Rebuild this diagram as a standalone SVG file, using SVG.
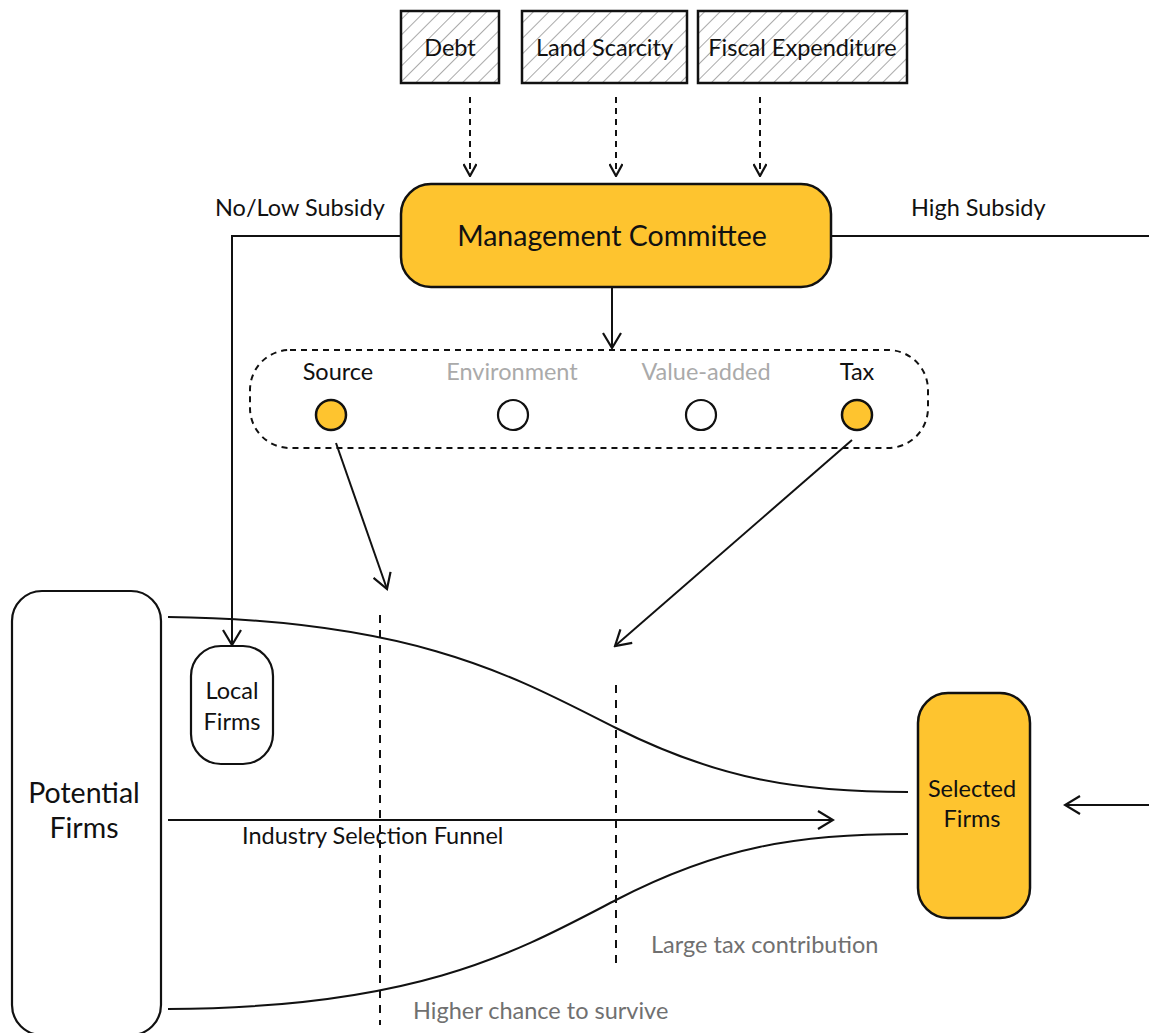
<svg xmlns="http://www.w3.org/2000/svg" width="1149" height="1033" viewBox="0 0 1149 1033">
  <style>
    text { font-family: Lato, "Open Sans", "Liberation Sans", sans-serif; fill: #111; }
    .hatchbox { fill: url(#hatch); stroke: #111; stroke-width: 2.5; }
    .yellow { fill: #FEC42F; stroke: #111; stroke-width: 2.5; }
    .plain { fill: #fff; stroke: #111; stroke-width: 2.2; }
    .line { fill: none; stroke: #111; stroke-width: 2; }
    .dash { fill: none; stroke: #111; stroke-width: 2; stroke-dasharray: 6 5; }
    .vdash { fill: none; stroke: #111; stroke-width: 2; stroke-dasharray: 8 7; }
    .lbl { font-size: 23.5px; }
    .big { font-size: 28.5px; }
    .faint { fill: #aaa; }
    .grey { fill: #707070; }
  </style>
  <defs>
    <pattern id="hatch" patternUnits="userSpaceOnUse" width="11" height="11" patternTransform="rotate(45)">
      <rect width="11" height="11" fill="#fff"/>
      <line x1="0" y1="0" x2="0" y2="11" stroke="#555" stroke-width="1"/>
    </pattern>
    <marker id="chev" viewBox="0 0 14 14" refX="13" refY="7" markerWidth="14" markerHeight="14" markerUnits="userSpaceOnUse" orient="auto">
      <path d="M1 0.5 L13 7 L1 13.5" fill="none" stroke="#111" stroke-width="2.2"/>
    </marker>
    <marker id="chevL" viewBox="0 0 20 20" refX="18" refY="10" markerWidth="20" markerHeight="20" markerUnits="userSpaceOnUse" orient="auto">
      <path d="M3 1 L18 10 L3 19" fill="none" stroke="#111" stroke-width="2.2"/>
    </marker>
  </defs>

  <!-- pressure factors -->
  <g id="debt">
    <rect class="hatchbox" x="401" y="11" width="98" height="72"/>
    <text class="lbl" x="450" y="56" text-anchor="middle">Debt</text>
  </g>
  <g id="land-scarcity">
    <rect class="hatchbox" x="522" y="11" width="165" height="72"/>
    <text class="lbl" x="604.5" y="56" text-anchor="middle">Land Scarcity</text>
  </g>
  <g id="fiscal-expenditure">
    <rect class="hatchbox" x="698" y="11" width="209" height="72"/>
    <text class="lbl" x="802.5" y="56" text-anchor="middle">Fiscal Expenditure</text>
  </g>

  <!-- committee -->
  <g id="management-committee">
    <rect class="yellow" x="401" y="184" width="430" height="103" rx="30"/>
    <text class="big" x="612" y="246" text-anchor="middle">Management Committee</text>
  </g>

  <!-- criteria -->
  <g id="criteria">
    <rect class="dash" x="250" y="350" width="678" height="98" rx="40"/>
    <text class="lbl" x="338" y="380" text-anchor="middle">Source</text>
    <text class="lbl faint" x="512" y="380" text-anchor="middle">Environment</text>
    <text class="lbl faint" x="706" y="380" text-anchor="middle">Value-added</text>
    <text class="lbl" x="857" y="380" text-anchor="middle">Tax</text>
    <circle cx="331" cy="415" r="15" class="yellow" stroke-width="2.2"/>
    <circle cx="513" cy="415" r="15" class="plain"/>
    <circle cx="701" cy="415" r="15" class="plain"/>
    <circle cx="857" cy="415" r="15" class="yellow" stroke-width="2.2"/>
  </g>

  <!-- firms -->
  <g id="potential-firms">
    <rect class="plain" x="12" y="591" width="149" height="444" rx="30"/>
    <text class="big" x="84" y="803" text-anchor="middle">Potential</text>
    <text class="big" x="84" y="838" text-anchor="middle">Firms</text>
  </g>
  <g id="local-firms">
    <rect class="plain" x="191" y="646" width="82" height="118" rx="30"/>
    <text class="lbl" x="232" y="699" text-anchor="middle">Local</text>
    <text class="lbl" x="232" y="730" text-anchor="middle">Firms</text>
  </g>
  <g id="selected-firms">
    <rect class="yellow" x="918" y="693" width="112" height="225" rx="30"/>
    <text class="lbl" x="972" y="797" text-anchor="middle">Selected</text>
    <text class="lbl" x="972" y="827" text-anchor="middle">Firms</text>
  </g>

  <!-- connectors -->
  <g id="connectors">
    <line class="dash" x1="470" y1="97" x2="470" y2="176" marker-end="url(#chev)"/>
    <line class="dash" x1="616" y1="97" x2="616" y2="176" marker-end="url(#chev)"/>
    <line class="dash" x1="760" y1="97" x2="760" y2="176" marker-end="url(#chev)"/>

    <polyline class="line" points="401,236 232,236 232,645" marker-end="url(#chevL)"/>
    <line class="line" x1="831" y1="236" x2="1149" y2="236"/>
    <line class="line" x1="612" y1="287" x2="612" y2="348" marker-end="url(#chevL)"/>

    <line class="line" x1="336" y1="443" x2="387" y2="589" marker-end="url(#chevL)"/>
    <line class="line" x1="852" y1="440" x2="615" y2="646" marker-end="url(#chevL)"/>

    <path class="line" d="M168 617 C 420 620, 520 680, 616 728 C 720 780, 800 792, 908 792"/>
    <path class="line" d="M168 1009 C 420 1008, 520 950, 616 900 C 720 846, 800 834, 908 834"/>
    <line class="line" x1="168" y1="820" x2="833" y2="820" marker-end="url(#chevL)"/>
    <line class="line" x1="1149" y1="805" x2="1065" y2="805" marker-end="url(#chevL)"/>

    <line class="vdash" x1="380" y1="615" x2="380" y2="1025"/>
    <line class="vdash" x1="616" y1="685" x2="616" y2="963"/>
  </g>

  <!-- annotations -->
  <g id="labels">
    <text class="lbl" x="215" y="216">No/Low Subsidy</text>
    <text class="lbl" x="911" y="216">High Subsidy</text>
    <text class="lbl" x="242" y="844">Industry Selection Funnel</text>
    <text class="lbl grey" x="651" y="953">Large tax contribution</text>
    <text class="lbl grey" x="413" y="1019">Higher chance to survive</text>
  </g>
</svg>
